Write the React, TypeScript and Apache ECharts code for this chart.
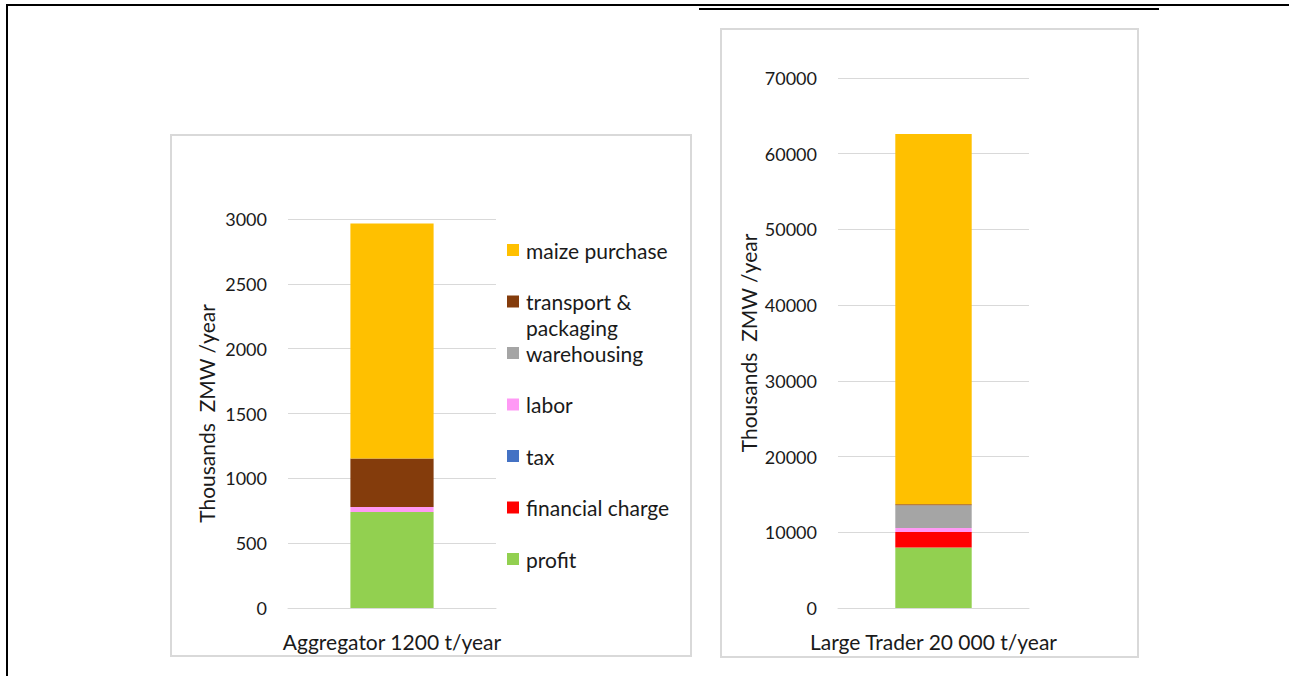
import React, { useEffect, useRef } from "react";
import * as echarts from "echarts";

// Series in stacking order (bottom to top)
const seriesNames = [
  "profit",
  "financial charge",
  "tax",
  "labor",
  "warehousing",
  "transport & packaging",
  "maize purchase",
];
const seriesColors = ["#92D050", "#FF0000", "#4472C4", "#FF99F5", "#A5A5A5", "#843C0C", "#FFC000"];

// Legend labels (top to bottom as shown)
const legendLabels = [
  "maize purchase",
  "transport &\npackaging",
  "warehousing",
  "labor",
  "tax",
  "financial charge",
  "profit",
];

const aggregatorCategories = ["Aggregator 1200 t/year"];
const traderCategories = ["Large Trader 20 000 t/year"];

// Thousands ZMW / year, same order as seriesNames
const aggregatorValues = [741, 0, 0, 38, 0, 373, 1814];
const traderValues = [8000, 2040, 0, 530, 2990, 150, 48890];

const aggregatorAxis = { min: 0, max: 3000, interval: 500 };
const traderAxis = { min: 0, max: 70000, interval: 10000 };

const yTitle = "Thousands  ZMW /year";

const FONT = "Lato, 'Open Sans', sans-serif";
const TXT = "#1a1a1a";
const GRID = "#d9d9d9";

export default function App() {
  const ref = useRef<HTMLDivElement>(null);

  useEffect(() => {
    if (!ref.current) return;
    const chart = echarts.init(ref.current, null, { renderer: "svg" });

    const g1 = { left: 288, top: 219, width: 208, height: 389 };
    const g2 = { left: 838, top: 78, width: 191, height: 530 };

    const series: any[] = [];
    seriesNames.forEach((name, i) => {
      series.push({
        name,
        type: "bar",
        stack: "a",
        xAxisIndex: 0,
        yAxisIndex: 0,
        barWidth: "40%",
        itemStyle: { color: seriesColors[i] },
        data: [aggregatorValues[i]],
      });
      series.push({
        name,
        type: "bar",
        stack: "b",
        xAxisIndex: 1,
        yAxisIndex: 1,
        barWidth: "40%",
        itemStyle: { color: seriesColors[i] },
        data: [traderValues[i]],
      });
    });

    const legendTop = 250;
    const legendStep = 51.5;
    const legendGraphics: any[] = [];
    legendLabels.forEach((label, i) => {
      const cy = legendTop + i * legendStep;
      const colorIdx = seriesNames.length - 1 - i;
      legendGraphics.push({
        type: "rect",
        shape: { x: 507, y: cy - 6, width: 12, height: 12 },
        style: { fill: seriesColors[colorIdx] },
      });
      const multi = label.includes("\n");
      legendGraphics.push({
        type: "text",
        x: 526,
        y: multi ? cy - 13 : cy,
        style: {
          text: label,
          font: `21px ${FONT}`,
          fill: TXT,
          align: "left",
          verticalAlign: multi ? "top" : "middle",
          lineHeight: 26,
        },
      });
    });

    const yAxisCommon = {
      type: "value",
      axisLine: { show: false },
      axisTick: { show: false },
      splitLine: { lineStyle: { color: GRID, width: 1 } },
      axisLabel: {
        color: TXT,
        fontSize: 18,
        fontFamily: FONT,
        margin: 21,
        formatter: (v: number) => String(v),
      },
    };
    const xAxisCommon = {
      type: "category",
      axisLine: { show: true, lineStyle: { color: GRID, width: 1 } },
      axisTick: { show: false },
      axisLabel: { color: TXT, fontSize: 21, fontFamily: FONT, margin: 23 },
    };

    chart.setOption({
      animation: false,
      backgroundColor: "#ffffff",
      grid: [
        { ...g1, containLabel: false },
        { ...g2, containLabel: false },
      ],
      xAxis: [
        { ...xAxisCommon, gridIndex: 0, data: aggregatorCategories },
        { ...xAxisCommon, gridIndex: 1, data: traderCategories },
      ],
      yAxis: [
        { ...yAxisCommon, gridIndex: 0, ...aggregatorAxis },
        { ...yAxisCommon, gridIndex: 1, ...traderAxis },
      ],
      series,
      graphic: [
        // outer frame lines
        { type: "line", shape: { x1: 6, y1: 5, x2: 1289, y2: 5 }, style: { stroke: "#000", lineWidth: 2 } },
        { type: "line", shape: { x1: 699, y1: 9, x2: 1159, y2: 9 }, style: { stroke: "#000", lineWidth: 2 } },
        { type: "line", shape: { x1: 7, y1: 4, x2: 7, y2: 676 }, style: { stroke: "#000", lineWidth: 2 } },
        // chart cards
        {
          type: "rect",
          shape: { x: 171, y: 135, width: 520, height: 521 },
          style: { fill: "none", stroke: GRID, lineWidth: 2 },
          z: -1,
        },
        {
          type: "rect",
          shape: { x: 721, y: 29, width: 417, height: 628 },
          style: { fill: "none", stroke: GRID, lineWidth: 2 },
          z: -1,
        },
        // y-axis titles
        {
          type: "text",
          x: 206,
          y: g1.top + g1.height / 2,
          rotation: Math.PI / 2,
          style: { text: yTitle, font: `21px ${FONT}`, fill: TXT, align: "center", verticalAlign: "middle" },
        },
        {
          type: "text",
          x: 748,
          y: g2.top + g2.height / 2,
          rotation: Math.PI / 2,
          style: { text: yTitle, font: `21px ${FONT}`, fill: TXT, align: "center", verticalAlign: "middle" },
        },
        ...legendGraphics,
      ],
    });

    return () => chart.dispose();
  }, []);

  return (
    <div
      ref={ref}
      style={{ position: "absolute", left: 0, top: 0, width: 1289, height: 676 }}
    />
  );
}
